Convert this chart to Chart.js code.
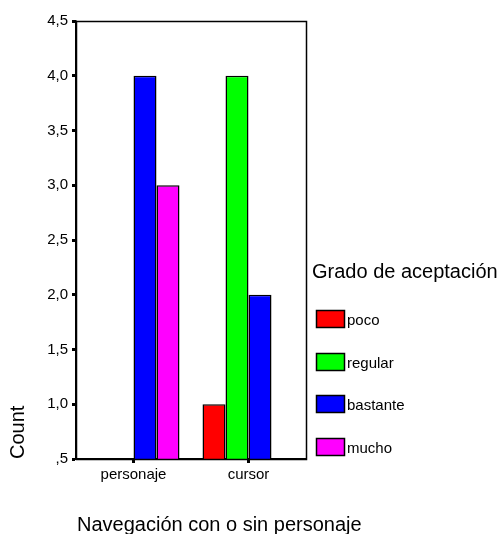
<!DOCTYPE html>
<html>
<head>
    <style>
        html, body { margin: 0; padding: 0; background: #fff; }
    </style>
    <script src="https://cdn.jsdelivr.net/npm/chart.js"></script>
</head>
<body>
    <canvas id="myChart" width="504" height="534"></canvas>
    <script>
        // data
        var categories = ['personaje', 'cursor'];
        var seriesNames = ['poco', 'regular', 'bastante', 'mucho'];
        var poco = [null, 1];
        var regular = [null, 4];
        var bastante = [4, 2];
        var mucho = [3, null];
        var yTicks = [0.5, 1.0, 1.5, 2.0, 2.5, 3.0, 3.5, 4.0, 4.5];

        var xTitle = 'Navegación con o sin personaje';
        var yTitle = 'Count';
        var legendTitle = 'Grado de aceptación';

        var colors = ['#ff0000', '#00ff00', '#0000ff', '#ff00ff'];
        var fontFamily = 'Arial, "Liberation Sans", sans-serif';

        // box around the plot area (SPSS style frame)
        var framePlugin = {
            id: 'frame',
            afterDatasetsDraw: function(chart) {
                var a = chart.chartArea, ctx = chart.ctx;
                ctx.save();
                ctx.strokeStyle = '#000';
                ctx.lineWidth = 1.5;
                ctx.strokeRect(Math.round(a.left) + 0.5, Math.round(a.top) + 0.5,
                    Math.round(a.right - a.left), Math.round(a.bottom - a.top));
                ctx.restore();
            }
        };

        // x title (drawn here so it is not squeezed to the plot width) and the legend on the right
        var sideLegend = {
            id: 'sideLegend',
            afterDraw: function(chart, args, opts) {
                var ctx = chart.ctx;
                ctx.save();
                ctx.textAlign = 'left';
                ctx.fillStyle = '#000';
                ctx.font = opts.titleSize + 'px ' + fontFamily;
                ctx.textBaseline = 'alphabetic';
                ctx.fillText(xTitle, chart.chartArea.left + 1, opts.xTitleBase);
                ctx.textBaseline = 'middle';
                ctx.fillText(opts.title, opts.x, opts.titleY);
                ctx.font = opts.labelSize + 'px ' + fontFamily;
                ctx.lineWidth = 1.5;
                ctx.strokeStyle = '#000';
                chart.data.datasets.forEach(function(ds, i) {
                    var y = Math.round(opts.firstY + i * opts.spacing);
                    var bx = opts.x + 4;
                    ctx.fillStyle = ds.backgroundColor;
                    ctx.fillRect(bx, y - opts.boxH / 2, opts.boxW, opts.boxH);
                    ctx.strokeRect(bx + 0.5, y - opts.boxH / 2 + 0.5, opts.boxW - 1, opts.boxH - 1);
                    ctx.fillStyle = '#000';
                    ctx.fillText(ds.label, bx + opts.boxW + 2, y + 2);
                });
                ctx.restore();
            }
        };

        var datasets = [poco, regular, bastante, mucho].map(function(values, i) {
            return {
                label: seriesNames[i],
                data: values,
                backgroundColor: colors[i],
                borderColor: '#000',
                borderWidth: 1.5,
                borderSkipped: false,
                categoryPercentage: 0.8,
                barPercentage: 1.0
            };
        });

        var ctx = document.getElementById('myChart').getContext('2d');
        var myChart = new Chart(ctx, {
            type: 'bar',
            data: {
                labels: categories,
                datasets: datasets
            },
            plugins: [framePlugin, sideLegend],
            options: {
                responsive: false,
                animation: false,
                layout: {
                    padding: { top: 21, right: 198, bottom: 0, left: 0 }
                },
                plugins: {
                    legend: { display: false },
                    tooltip: { enabled: false },
                    sideLegend: {
                        title: legendTitle,
                        titleSize: 20,
                        labelSize: 15,
                        x: 312,
                        titleY: 272,
                        xTitleBase: 531,
                        firstY: 319,
                        spacing: 42.7,
                        boxW: 29,
                        boxH: 18
                    }
                },
                scales: {
                    x: {
                        ticks: { color: '#000', font: { family: fontFamily, size: 15 }, padding: 3 },
                        grid: { offset: false, drawOnChartArea: false, tickLength: 4, tickWidth: 3, tickColor: '#000' },
                        border: { color: '#000', width: 1.5 },
                        title: { display: false, text: xTitle },
                        afterFit: function(s) { s.height = 75; }
                    },
                    y: {
                        min: yTicks[0],
                        max: yTicks[yTicks.length - 1],
                        afterBuildTicks: function(s) {
                            s.ticks = yTicks.map(function(v) { return { value: v }; });
                        },
                        ticks: {
                            color: '#000',
                            font: { family: fontFamily, size: 15 },
                            padding: 4,
                            callback: function(v) {
                                return v.toFixed(1).replace('.', ',').replace(/^0/, '');
                            }
                        },
                        grid: { drawOnChartArea: false, tickLength: 4, tickWidth: 3, tickColor: '#000' },
                        border: { color: '#000', width: 1.5 },
                        title: {
                            display: true, text: yTitle, align: 'start', color: '#000',
                            font: { family: fontFamily, size: 20 },
                            padding: { top: 6 }
                        },
                        afterFit: function(s) { s.width = 76; }
                    }
                }
            }
        });
    </script>
</body>
</html>
